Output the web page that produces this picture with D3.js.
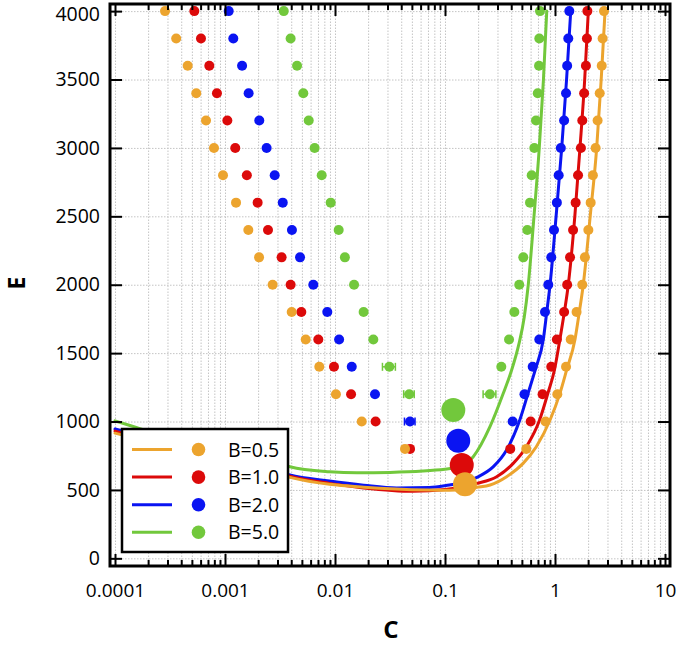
<!DOCTYPE html>
<html>
<head>
<meta charset="utf-8">
<script src="https://cdn.jsdelivr.net/npm/d3@7"></script>
<style>
  html, body { margin: 0; padding: 0; background: #fff; }
  svg { display: block; }
  text { font-family: "Open Sans", "Noto Sans", sans-serif; }
</style>
</head>
<body>
<svg id="chart" width="677" height="645"></svg>
<script>
// ---------------- DATA ----------------
const seriesNames = ["B=0.5", "B=1.0", "B=2.0", "B=5.0"];
const seriesColors = ["#eca42e", "#dc0a0a", "#0a14f2", "#72c83c"];

const xTickValues = [1e-4, 1e-3, 1e-2, 1e-1, 1, 10];
const xTickLabels = ["0.0001", "0.001", "0.01", "0.1", "1", "10"];
const yTickValues = [0, 500, 1000, 1500, 2000, 2500, 3000, 3500, 4000];
const yTickLabels = ["0", "500", "1000", "1500", "2000", "2500", "3000", "3500", "4000"];

// E levels of the simulated points (top to bottom)
const levels = [4000, 3800, 3600, 3400, 3200, 3000, 2800, 2600, 2400, 2200, 2000, 1800, 1600, 1400, 1200, 1000, 800];

// left branch C values
const leftC_B05 = [2.85e-4, 3.60e-4, 4.58e-4, 5.48e-4, 6.72e-4, 7.94e-4, 9.59e-4, 1.26e-3, 1.63e-3, 2.04e-3, 2.71e-3, 4.04e-3, 5.42e-3, 7.20e-3, 1.02e-2, 1.75e-2, 4.33e-2];
const leftC_B10 = [5.26e-4, 6.05e-4, 7.20e-4, 8.45e-4, 1.05e-3, 1.24e-3, 1.58e-3, 1.98e-3, 2.46e-3, 3.27e-3, 3.95e-3, 4.94e-3, 7.05e-3, 9.79e-3, 1.40e-2, 2.34e-2, 4.81e-2];
const leftC_B20 = [1.08e-3, 1.19e-3, 1.43e-3, 1.64e-3, 2.05e-3, 2.39e-3, 2.83e-3, 3.35e-3, 4.06e-3, 4.81e-3, 6.35e-3, 8.51e-3, 1.09e-2, 1.42e-2, 2.31e-2, 4.81e-2];
const leftC_B50 = [3.42e-3, 3.95e-3, 4.52e-3, 5.15e-3, 5.77e-3, 6.53e-3, 7.57e-3, 9.14e-3, 1.08e-2, 1.23e-2, 1.49e-2, 1.82e-2, 2.23e-2, 3.12e-2, 4.73e-2];

// right branch C values
const rightC_B05 = [2.79, 2.71, 2.66, 2.55, 2.44, 2.34, 2.21, 2.11, 2.01, 1.87, 1.77, 1.57, 1.39, 1.26, 1.05, 0.820, 0.548];
const rightC_B10 = [1.97, 1.95, 1.91, 1.84, 1.77, 1.72, 1.62, 1.54, 1.46, 1.37, 1.29, 1.21, 1.04, 0.925, 0.771, 0.601, 0.392];
const rightC_B20 = [1.35, 1.32, 1.29, 1.26, 1.21, 1.13, 1.08, 1.04, 0.979, 0.925, 0.869, 0.811, 0.720, 0.627, 0.528, 0.412];
const rightC_B50 = [0.731, 0.720, 0.716, 0.697, 0.672, 0.649, 0.614, 0.593, 0.560, 0.515, 0.473, 0.427, 0.382, 0.325, 0.256];

// horizontal error bars (series index, C, E, half width in C)
const errSeries = [3, 3, 3, 2];
const errC = [0.0312, 0.0473, 0.256, 0.0481];
const errE = [1400, 1200, 1200, 1000];
const errHalf = [0.0042, 0.0052, 0.034, 0.0053];

// critical points (big dots)
const critC = [0.152, 0.142, 0.132, 0.119];
const critE = [541, 682, 860, 1084];

// fitted curves
const fitC_B05 = [1e-4, 1.585e-4, 3.162e-4, 1e-3, 3.162e-3, 3.89e-3, 8.91e-3, 0.0182, 0.0724, 0.1096, 0.1514, 0.195, 0.257, 0.3631, 0.5129, 0.6761, 0.9016, 1.109, 1.276, 1.521, 1.663, 1.807, 2.089, 2.393, 2.630, 2.851];
const fitE_B05 = [915, 872, 798, 695, 610, 592, 541, 520, 499, 497, 505, 519, 536, 597, 694, 816, 1011, 1206, 1377, 1602, 1800, 2000, 2500, 3000, 3500, 4000];
const fitC_B10 = [1e-4, 1.585e-4, 3.162e-4, 1e-3, 3.162e-3, 3.89e-3, 8.91e-3, 0.0182, 0.0513, 0.1, 0.1413, 0.195, 0.2951, 0.4169, 0.5495, 0.7244, 0.861, 0.9886, 1.109, 1.216, 1.321, 1.514, 1.687, 1.862, 2.009];
const fitE_B10 = [930, 888, 810, 705, 620, 600, 548, 515, 490, 503, 522, 548, 597, 694, 816, 1011, 1206, 1377, 1602, 1800, 2000, 2500, 3000, 3500, 4000];
const fitC_B20 = [1e-4, 1.585e-4, 3.162e-4, 1e-3, 3.162e-3, 3.89e-3, 8.91e-3, 0.0182, 0.0363, 0.0724, 0.1096, 0.1413, 0.195, 0.2754, 0.3631, 0.4786, 0.5689, 0.6683, 0.7834, 0.8414, 0.9016, 1.023, 1.151, 1.274, 1.390];
const fitE_B20 = [945, 900, 820, 720, 630, 609, 565, 535, 515, 518, 536, 550, 592, 670, 792, 1011, 1206, 1390, 1602, 1800, 2000, 2500, 3000, 3500, 4000];
const fitC_B50 = [1e-4, 1.585e-4, 3.162e-4, 1e-3, 3.162e-3, 3.89e-3, 8.91e-3, 0.01585, 0.03162, 0.0631, 0.1, 0.1175, 0.1368, 0.1807, 0.2564, 0.3388, 0.4036, 0.4677, 0.5248, 0.5715, 0.6442, 0.7194, 0.7852, 0.8414];
const fitE_B50 = [1005, 955, 880, 780, 700, 670, 633, 625, 628, 638, 651, 658, 670, 743, 962, 1206, 1377, 1560, 1760, 2000, 2500, 3000, 3500, 4000];

// ---------------- LAYOUT ----------------
const L = 110, R = 670, T = 4, B = 566;
const svg = d3.select("#chart");

const x = d3.scaleLog().domain([Math.pow(10, -4 - 5 / 110), Math.pow(10, 1 + 5 / 110)]).range([L, R]);
const y = d3.scaleLinear().domain([-56, 4052]).range([B, T]);

const minorX = [];
for (let e = -4; e <= 0; e++) for (let m = 2; m <= 9; m++) minorX.push(m * Math.pow(10, e));

// grid
const gridV = svg.append("g").attr("transform", `translate(0,${B})`)
  .call(d3.axisBottom(x).tickValues(xTickValues.concat(minorX)).tickSize(-(B - T)).tickFormat(""));
gridV.select(".domain").remove();
gridV.selectAll("line").attr("stroke", "#c4c4c4").attr("stroke-width", 1).attr("stroke-dasharray", "1.5,1.5");
const gridH = svg.append("g").attr("transform", `translate(${L},0)`)
  .call(d3.axisLeft(y).tickValues(yTickValues).tickSize(-(R - L)).tickFormat(""));
gridH.select(".domain").remove();
gridH.selectAll("line").attr("stroke", "#c4c4c4").attr("stroke-width", 1).attr("stroke-dasharray", "1.5,1.5");

// data arrays
const leftC = [leftC_B05, leftC_B10, leftC_B20, leftC_B50];
const rightC = [rightC_B05, rightC_B10, rightC_B20, rightC_B50];
const fitC = [fitC_B05, fitC_B10, fitC_B20, fitC_B50];
const fitE = [fitE_B05, fitE_B10, fitE_B20, fitE_B50];

const plot = svg.append("g");
const order = [3, 2, 1, 0];
const line = d3.line().x(d => x(d[0])).y(d => y(d[1])).curve(d3.curveMonotoneX);

order.forEach(i => {
  const pts = fitC[i].map((c, k) => [c, fitE[i][k]]);
  plot.append("path").datum(pts).attr("d", line)
    .attr("fill", "none").attr("stroke", seriesColors[i]).attr("stroke-width", 3)
    .attr("stroke-linejoin", "round").attr("stroke-linecap", "round");
});

// error bars
errSeries.forEach((s, k) => {
  const g = plot.append("g").attr("stroke", seriesColors[s]).attr("stroke-width", 1.5);
  const x0 = x(errC[k] - errHalf[k]), x1 = x(errC[k] + errHalf[k]), yy = y(errE[k]);
  g.append("line").attr("x1", x0).attr("x2", x1).attr("y1", yy).attr("y2", yy);
  g.append("line").attr("x1", x0).attr("x2", x0).attr("y1", yy - 4).attr("y2", yy + 4);
  g.append("line").attr("x1", x1).attr("x2", x1).attr("y1", yy - 4).attr("y2", yy + 4);
});

order.forEach(i => {
  const pts = leftC[i].map((c, k) => [c, levels[k]]).concat(rightC[i].map((c, k) => [c, levels[k]]));
  plot.append("g").selectAll("circle").data(pts).join("circle")
    .attr("cx", d => x(d[0])).attr("cy", d => y(d[1])).attr("r", 5)
    .attr("fill", seriesColors[i]);
});

order.forEach(i => {
  plot.append("circle").attr("cx", x(critC[i])).attr("cy", y(critE[i])).attr("r", 12)
    .attr("fill", seriesColors[i]);
});

// axes with inward ticks
function styleAxis(g) {
  g.select(".domain").remove();
  g.selectAll("line").attr("stroke", "#000").attr("stroke-width", 2);
}
const axB = svg.append("g").attr("transform", `translate(0,${B})`)
  .call(d3.axisBottom(x).tickValues(xTickValues).tickSize(-12).tickPadding(18)
    .tickFormat((d, i) => xTickLabels[i]));
styleAxis(axB);
axB.selectAll("text").attr("font-size", 19).attr("fill", "#000");
const axBm = svg.append("g").attr("transform", `translate(0,${B})`)
  .call(d3.axisBottom(x).tickValues(minorX).tickSize(-6).tickFormat(""));
styleAxis(axBm);
const axT = svg.append("g").attr("transform", `translate(0,${T})`)
  .call(d3.axisTop(x).tickValues(xTickValues).tickSize(-12).tickFormat(""));
styleAxis(axT);
const axTm = svg.append("g").attr("transform", `translate(0,${T})`)
  .call(d3.axisTop(x).tickValues(minorX).tickSize(-6).tickFormat(""));
styleAxis(axTm);
const axL = svg.append("g").attr("transform", `translate(${L},0)`)
  .call(d3.axisLeft(y).tickValues(yTickValues).tickSize(-12).tickPadding(10)
    .tickFormat((d, i) => yTickLabels[i]));
styleAxis(axL);
axL.selectAll("text").attr("font-size", 19.5).attr("fill", "#000")
  .attr("dy", d => d === 4000 ? "0.5em" : "0.32em");
const axR = svg.append("g").attr("transform", `translate(${R},0)`)
  .call(d3.axisRight(y).tickValues(yTickValues).tickSize(-12).tickFormat(""));
styleAxis(axR);

// frame
svg.append("rect").attr("x", L).attr("y", T).attr("width", R - L).attr("height", B - T)
  .attr("fill", "none").attr("stroke", "#000").attr("stroke-width", 3);

// axis titles
svg.append("text").attr("x", 391).attr("y", 638).attr("text-anchor", "middle")
  .attr("font-size", 24).attr("font-weight", "bold").text("C");
svg.append("text").attr("transform", "translate(25,283) rotate(-90)").attr("text-anchor", "middle")
  .attr("font-size", 23).attr("font-weight", "bold").text("E");

// legend
const lg = svg.append("g");
lg.append("rect").attr("x", 122).attr("y", 429).attr("width", 166).attr("height", 123)
  .attr("fill", "#fff").attr("stroke", "#000").attr("stroke-width", 2.5);
seriesNames.forEach((name, i) => {
  const yy = 449.5 + i * 27.6;
  lg.append("line").attr("x1", 132).attr("x2", 172).attr("y1", yy).attr("y2", yy)
    .attr("stroke", seriesColors[i]).attr("stroke-width", 3);
  lg.append("circle").attr("cx", 198.5).attr("cy", yy).attr("r", 6.8).attr("fill", seriesColors[i]);
  lg.append("text").attr("x", 228).attr("y", yy).attr("dy", "0.36em")
    .attr("font-size", 19.5).attr("fill", "#000").text(name);
});
</script>
</body>
</html>
